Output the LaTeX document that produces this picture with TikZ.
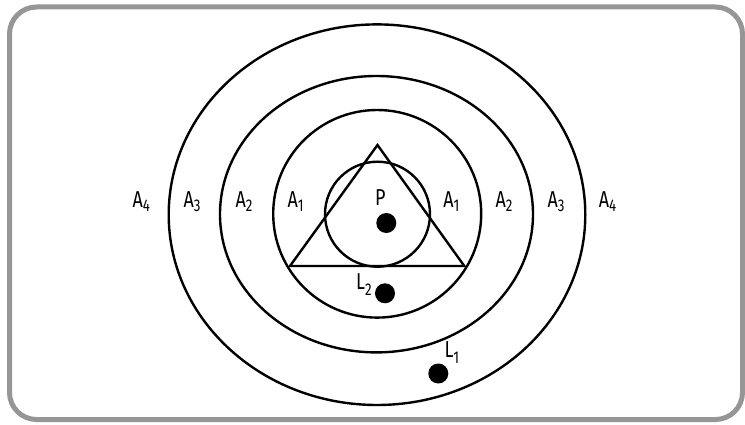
\documentclass[tikz,border=0pt]{standalone}
\usepackage{fontspec}
\setmainfont{Fira Sans}
\usepackage{graphicx}
\newcommand\labtxt[3]{\scalebox{0.78}[1]{\fontsize{23}{23}\selectfont #1\raisebox{#3}{\fontsize{17}{17}\selectfont #2}}}
\begin{document}
\begin{tikzpicture}[x=1pt,y=-1pt,
  ring/.style={draw=black,line width=2.4pt},
  dotmark/.style={circle,fill=black,inner sep=0pt,minimum size=20pt},
  lbl/.style={anchor=base west,inner sep=0pt,text=black}]
\useasboundingbox (0,0) rectangle (745,425);
\draw[draw={rgb,255:red,150;green,150;blue,150},line width=5pt,rounded corners=27pt] (9.5,7) rectangle (742.5,419.5);
% ellipses
\draw[ring] (377,214.7) ellipse [x radius=208.3, y radius=190.3];
\draw[ring] (376.5,214.2) ellipse [x radius=156.5, y radius=138.2];
\draw[ring] (377.2,213.8) ellipse [x radius=104, y radius=103.8];
\draw[ring] (377.5,214.2) circle [radius=52.5];
% triangle
\coordinate (t1) at (377.5,145);
\coordinate (t2) at (290,266);
\coordinate (t3) at (464.3,266);
\draw[ring,line join=miter] (t1) -- (t2) -- (t3) -- cycle;
% dots
\node[dotmark] (pdot) at (386.3,223) {};
\node[dotmark] (l2dot) at (385,293.3) {};
\node[dotmark] (l1dot) at (438.3,373.5) {};
% labels
\node[lbl] (a4l) at (132.3,207.5) {\labtxt{A}{4}{-4pt}};
\node[lbl] (a3l) at (183.5,207.5) {\labtxt{A}{3}{-4pt}};
\node[lbl] (a2l) at (235.5,207.5) {\labtxt{A}{2}{-4pt}};
\node[lbl] (a1l) at (287.4,207.5) {\labtxt{A}{1}{-4pt}};
\node[lbl] (a1r) at (443.2,207.5) {\labtxt{A}{1}{-4pt}};
\node[lbl] (a2r) at (495.5,207.5) {\labtxt{A}{2}{-4pt}};
\node[lbl] (a3r) at (547.3,207.5) {\labtxt{A}{3}{-4pt}};
\node[lbl] (a4r) at (598.6,207.5) {\labtxt{A}{4}{-4pt}};
\node[lbl] (plab) at (375,206) {\scalebox{0.78}[1]{\fontsize{23}{23}\selectfont P}};
\node[lbl] (l2lab) at (356,289.3) {\labtxt{L}{2}{-6pt}};
\node[lbl] (l1lab) at (444.3,357.3) {\labtxt{L}{1}{-6pt}};
\end{tikzpicture}
\end{document}
